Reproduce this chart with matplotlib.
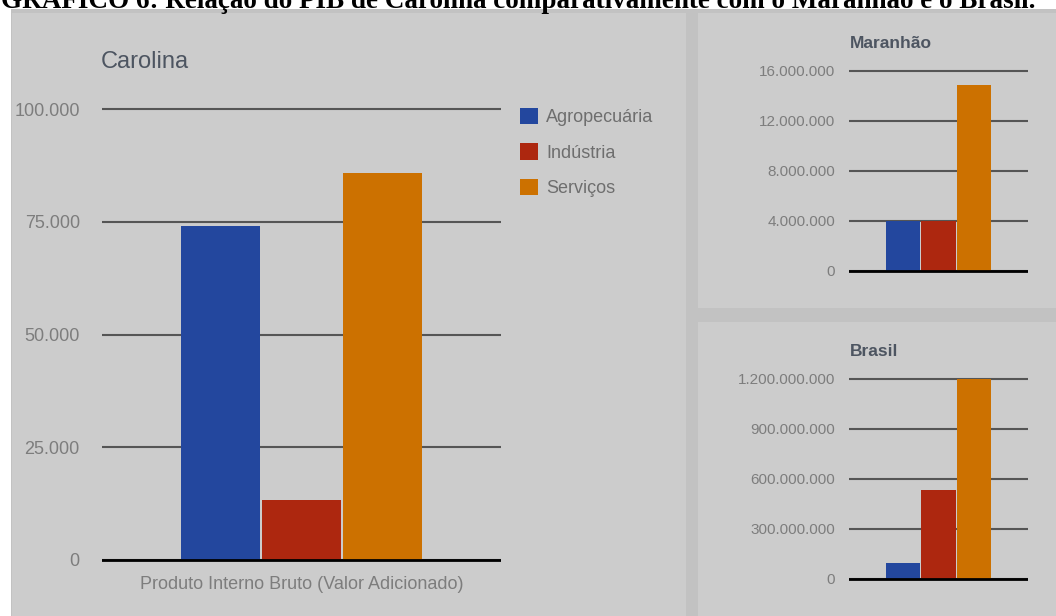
import matplotlib
matplotlib.use("Agg")
import matplotlib.pyplot as plt
import matplotlib.patches as patches
from matplotlib.ticker import FuncFormatter

W, H = 1056, 616

SECTORS = ["Agropecuária", "Indústria", "Serviços"]
COLORS = ["#23479E", "#AD270F", "#CC7100"]

CATEGORY = "Produto Interno Bruto (Valor Adicionado)"
CAROLINA = [74100, 13200, 85800]
CAROLINA_TICKS = [0, 25000, 50000, 75000, 100000]
MARANHAO = [3980000, 4000000, 14850000]
MARANHAO_TICKS = [0, 4000000, 8000000, 12000000, 16000000]
BRASIL = [95000000, 534000000, 1198000000]
BRASIL_TICKS = [0, 300000000, 600000000, 900000000, 1200000000]

TITLE = "GRÁFICO 6: Relação do PIB de Carolina comparativamente com o Maranhão e o Brasil."

FONT = ["Liberation Sans", "DejaVu Sans"]
TICK_COLOR = "#7d7d7d"
TITLE_COLOR = "#4d5561"
GRID_COLOR = "#555555"


def px_box(x0, y0, x1, y1):
    return [x0 / W, 1 - y1 / H, (x1 - x0) / W, (y1 - y0) / H]


def rect(fig, x0, y0, x1, y1, color):
    fig.patches.append(patches.Rectangle(
        (x0 / W, 1 - y1 / H), (x1 - x0) / W, (y1 - y0) / H,
        transform=fig.transFigure, facecolor=color, edgecolor="none", zorder=-1))


def dotted(v, _pos=None):
    return f"{v:,.0f}".replace(",", ".")


def bar_panel(ax, values, ticks, ylim, width, step, fontsize, pad):
    for i, (v, c) in enumerate(zip(values, COLORS)):
        ax.bar((i - 1) * step, v, width, color=c, label=SECTORS[i], zorder=3)
    ax.set_xlim(-0.5, 0.5)
    ax.set_ylim(*ylim)
    ax.set_yticks(ticks)
    ax.yaxis.set_major_formatter(FuncFormatter(dotted))
    ax.grid(axis="y", color=GRID_COLOR, lw=1.5, zorder=1)
    ax.axhline(0, color="black", lw=2, zorder=4)
    ax.set_facecolor("none")
    for s in ax.spines.values():
        s.set_visible(False)
    ax.tick_params(axis="y", length=0, pad=pad, labelcolor=TICK_COLOR, labelsize=fontsize)
    for lab in ax.get_yticklabels():
        lab.set_family(FONT)
    ax.set_xticks([])


fig = plt.figure(figsize=(W / 100, H / 100), dpi=100, facecolor="white")

# panel background and frames
rect(fig, 11, 9, W, H, "#c2c2c2")
rect(fig, 12, 13, 686, H, "#cccccc")
rect(fig, 698, 13, W, 308, "#cccccc")
rect(fig, 698, 322, W, H, "#cccccc")

fig.text(1 / W, 1 - 8 / H, TITLE, ha="left", va="baseline", fontsize=19.5,
         fontweight="bold", family="Liberation Serif", color="black")

# Carolina
ax1 = fig.add_axes(px_box(102, 104.5, 501, 564.5))
bar_panel(ax1, CAROLINA, CAROLINA_TICKS, (-1000, 101000), 0.198, 0.204, 13, 16)
ax1.set_xticks([0])
ax1.set_xticklabels([CATEGORY], family=FONT, fontsize=13, color=TICK_COLOR)
ax1.tick_params(axis="x", length=0, pad=8)
fig.text(101 / W, 1 - 62 / H, "Carolina", ha="left", va="center", fontsize=17,
         family=FONT, color=TITLE_COLOR)
leg = ax1.legend(loc="upper left", bbox_to_anchor=(520 / W, 1 - 108 / H),
                 bbox_transform=fig.transFigure, frameon=False,
                 handlelength=1.0, handleheight=1.0, handletextpad=0.44,
                 labelspacing=0.95, borderpad=0, borderaxespad=0,
                 prop={"family": FONT, "size": 13})
for t in leg.get_texts():
    t.set_color("#6e6e6e")

# Maranhao
ax2 = fig.add_axes(px_box(849, 68.2, 1028, 273.2))
bar_panel(ax2, MARANHAO, MARANHAO_TICKS, (-200000, 16200000), 0.19, 0.2, 11, 10)
fig.text(850 / W, 1 - 43 / H, "Maranhão", ha="left", va="center", fontsize=12.5,
         fontweight="bold", family=FONT, color=TITLE_COLOR)

# Brasil
ax3 = fig.add_axes(px_box(849, 377, 1028, 581))
bar_panel(ax3, BRASIL, BRASIL_TICKS, (-12000000, 1212000000), 0.19, 0.2, 11, 10)
fig.text(850 / W, 1 - 351 / H, "Brasil", ha="left", va="center", fontsize=12.5,
         fontweight="bold", family=FONT, color=TITLE_COLOR)

fig.savefig("out.png", dpi=100, facecolor="white")
